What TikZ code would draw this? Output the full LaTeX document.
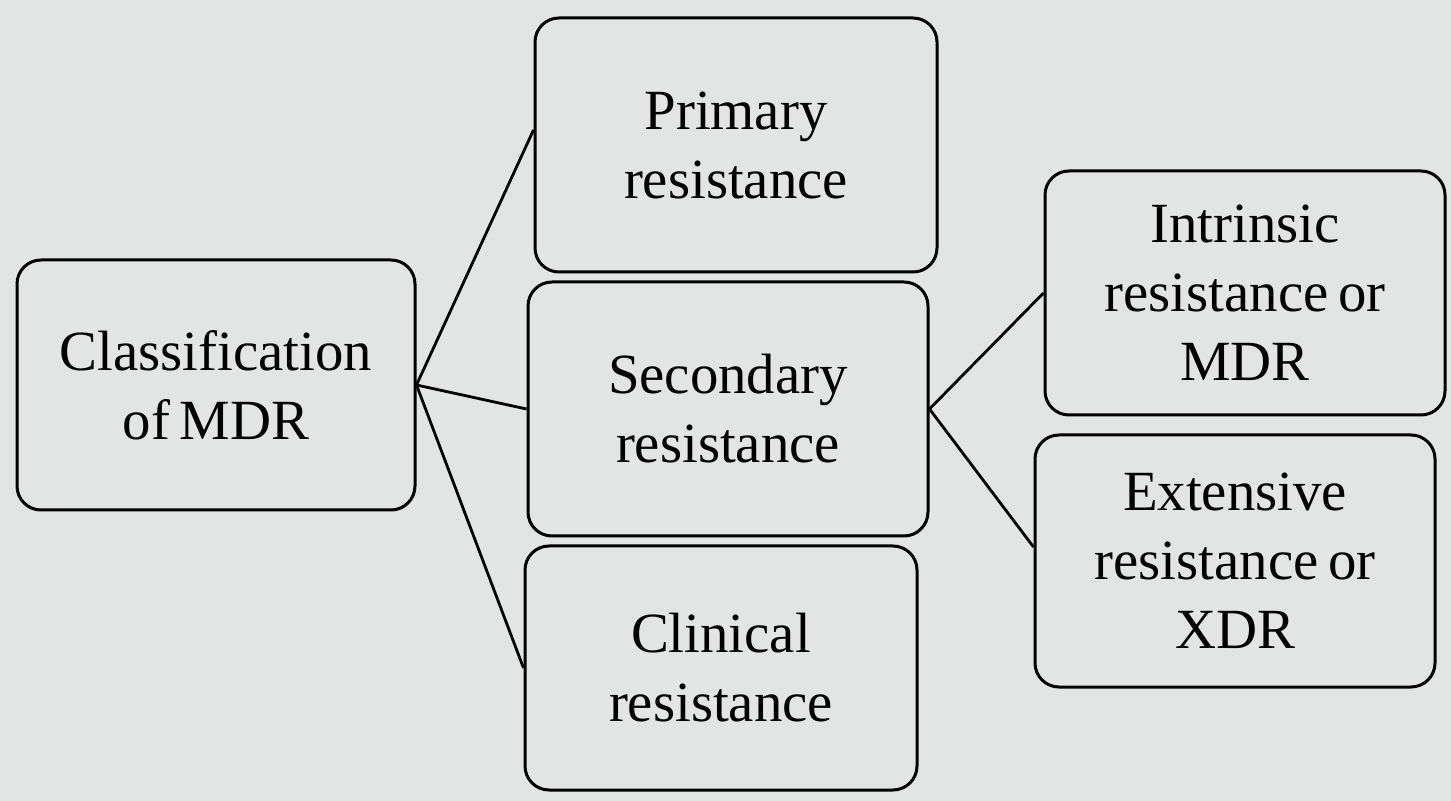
\documentclass[tikz,border=0pt]{standalone}
\usepackage{tikz}
\usepackage{fontspec}
\setmainfont{Liberation Serif}
\usetikzlibrary{calc}
\definecolor{paper}{HTML}{E3E5E4}
\tikzset{
  mdrbox/.style={draw=black, line width=1.5pt, rounded corners=12pt,
    align=center, inner sep=0pt, font=\fontsize{28.4}{34.5}\selectfont},
  link/.style={draw=black, line width=1.4pt}
}
\begin{document}
\begin{tikzpicture}[x=0.5pt, y=-0.5pt]
  % background page
  \fill[paper] (0,0) rectangle (1451,801);
  \useasboundingbox (0,0) rectangle (1451,801);

  % boxes
  \node[mdrbox, minimum width=199pt, minimum height=125pt] (cls) at (216,385) {Classification\\of\,MDR};
  \node[mdrbox, minimum width=201pt, minimum height=127pt] (prim) at (736,145) {Primary\\resistance};
  \node[mdrbox, minimum width=200pt, minimum height=127pt] (sec) at (728,409) {Secondary\\resistance};
  \node[mdrbox, minimum width=196pt, minimum height=122pt] (clin) at (721,668) {Clinical\\resistance};
  \node[mdrbox, minimum width=200pt, minimum height=122pt] (intr) at (1245,293) {Intrinsic\\resistance\,or\\MDR};
  \node[mdrbox, minimum width=200pt, minimum height=126pt] (ext) at (1235,561) {Extensive\\resistance\,or\\XDR};

  % connectors
  \draw[link] (cls.east) -- ($(prim.west)+(0,-15)$);
  \draw[link] (cls.east) -- (sec.west);
  \draw[link] (cls.east) -- (clin.west);
  \draw[link] (sec.east) -- (intr.west);
  \draw[link] (sec.east) -- ($(ext.west)+(0,-14)$);
\end{tikzpicture}
\end{document}
